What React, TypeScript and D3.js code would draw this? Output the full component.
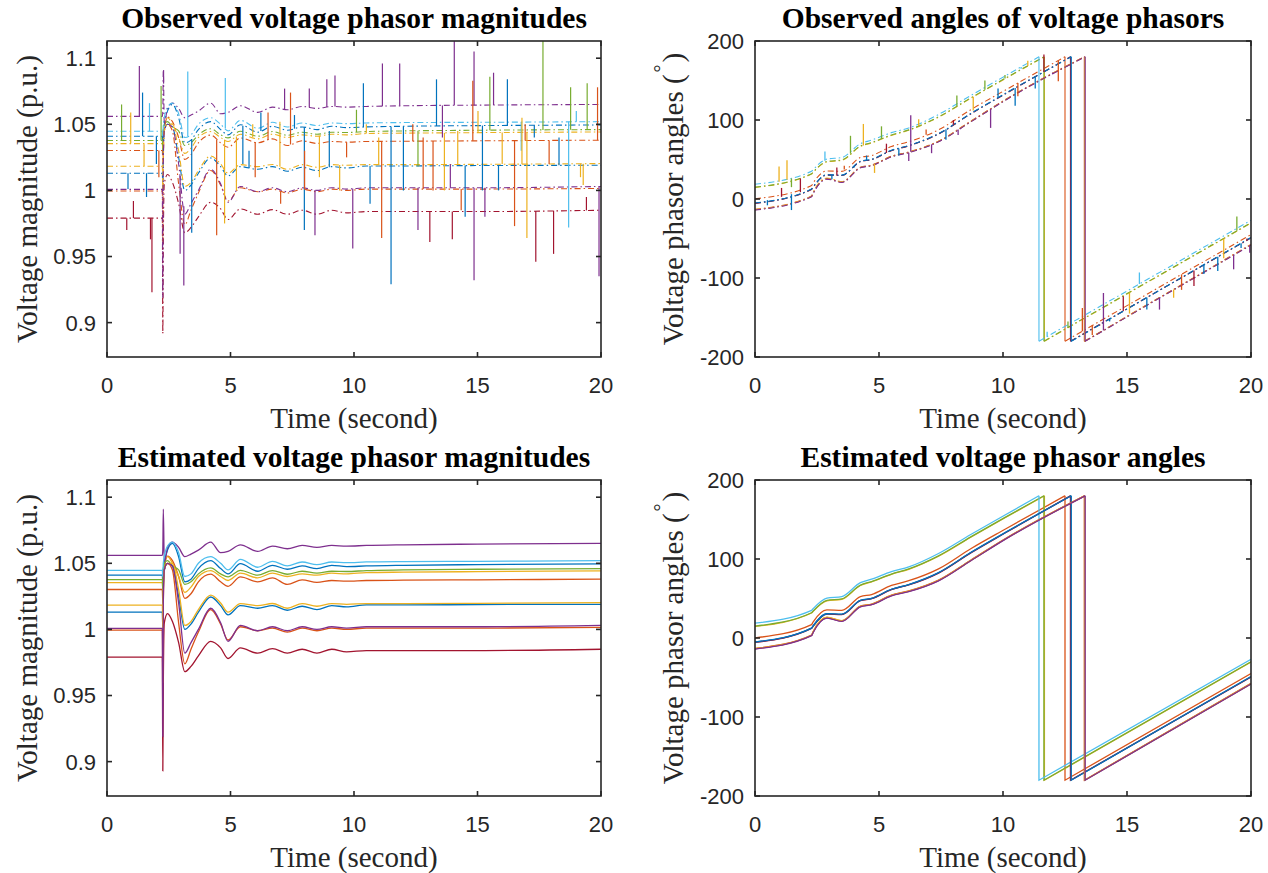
import React from 'react';
import * as d3 from 'd3';

// MATLAB default colour order
const COLORS = ['#0072BD', '#D95319', '#EDB120', '#7E2F8E', '#77AC30', '#4DBEEE', '#A2142F'];

const xTicks = [0, 5, 10, 15, 20];
const magTicks = [0.9, 0.95, 1, 1.05, 1.1];
const angTicks = [-200, -100, 0, 100, 200];

// ---------- magnitude key points (p.u.) ----------
const magTimes = [0, 2.24, 2.26, 2.28, 2.32, 2.45, 2.65, 2.9, 3.15, 3.4, 3.7, 4.2, 4.6, 4.9, 5.4, 6.1, 6.7, 7.3, 7.9, 8.5, 9.1, 9.7, 10.5, 12, 15, 20];
const magBlue1 = [1.041, 1.041, 1.035, 1.045, 1.05, 1.06, 1.065, 1.055, 1.036, 1.038, 1.046, 1.052, 1.046, 1.042, 1.0497, 1.044, 1.0485, 1.0455, 1.048, 1.046, 1.0485, 1.0475, 1.048, 1.0485, 1.049, 1.0495];
const magOrange1 = [1.0302, 1.0302, 1.02, 1.035, 1.045, 1.0555, 1.052, 1.04, 1.0234, 1.027, 1.036, 1.0418, 1.036, 1.0326, 1.0397, 1.036, 1.039, 1.034, 1.0375, 1.0355, 1.037, 1.0365, 1.037, 1.0372, 1.0375, 1.038];
const magYellow1 = [1.0354, 1.0354, 1.03, 1.04, 1.05, 1.055, 1.05, 1.04, 1.028, 1.032, 1.04, 1.0445, 1.04, 1.037, 1.0425, 1.039, 1.0425, 1.04, 1.042, 1.041, 1.0425, 1.042, 1.043, 1.0433, 1.0437, 1.0442];
const magPurple1 = [1.056, 1.056, 1.06, 1.091, 1.05, 1.062, 1.066, 1.062, 1.055, 1.057, 1.06, 1.066, 1.058, 1.059, 1.064, 1.059, 1.063, 1.061, 1.0635, 1.062, 1.0635, 1.063, 1.0635, 1.064, 1.0645, 1.065];
const magGreen = [1.0377, 1.0377, 1.03, 1.045, 1.05, 1.052, 1.048, 1.045, 1.034, 1.036, 1.042, 1.0466, 1.042, 1.0397, 1.0447, 1.041, 1.0445, 1.0417, 1.044, 1.0425, 1.044, 1.0438, 1.0445, 1.045, 1.0455, 1.046];
const magLightBlue = [1.0447, 1.0447, 1.04, 1.05, 1.055, 1.063, 1.066, 1.058, 1.04, 1.042, 1.05, 1.055, 1.05, 1.045, 1.053, 1.047, 1.0515, 1.048, 1.051, 1.049, 1.051, 1.0505, 1.051, 1.0513, 1.0515, 1.052];
const magDarkRed = [0.979, 0.979, 0.893, 0.96, 1.005, 1.012, 1.006, 0.99, 0.968, 0.972, 0.98, 0.991, 0.986, 0.978, 0.986, 0.982, 0.9855, 0.982, 0.985, 0.982, 0.985, 0.983, 0.984, 0.984, 0.984, 0.985];
const magBlue2 = [1.013, 1.013, 1.0, 1.03, 1.045, 1.05, 1.048, 1.025, 1.0, 1.004, 1.013, 1.0245, 1.018, 1.011, 1.018, 1.016, 1.018, 1.0145, 1.0175, 1.015, 1.018, 1.017, 1.0185, 1.0185, 1.0188, 1.019];
const magOrange2 = [0.9995, 0.9995, 0.96, 1.02, 1.045, 1.05, 1.045, 1.005, 0.974, 0.985, 0.998, 1.015, 1.004, 0.992, 1.002, 0.999, 1.001, 0.998, 1.001, 0.999, 1.001, 1.0, 1.001, 1.001, 1.001, 1.0015];
const magYellow2 = [1.0183, 1.0183, 1.0, 1.03, 1.045, 1.05, 1.05, 1.03, 1.003, 1.006, 1.015, 1.026, 1.02, 1.013, 1.0195, 1.018, 1.0196, 1.016, 1.0195, 1.0175, 1.0195, 1.019, 1.0195, 1.0195, 1.0197, 1.0203];
const magPurple2 = [1.0008, 1.0008, 0.919, 1.02, 1.045, 1.05, 1.048, 1.02, 0.982, 0.99, 1.0, 1.016, 1.005, 0.991, 1.003, 0.999, 1.002, 0.999, 1.002, 1.0, 1.002, 1.001, 1.002, 1.002, 1.002, 1.003];
const magSeries = [magBlue1, magOrange1, magYellow1, magPurple1, magGreen, magLightBlue, magDarkRed, magBlue2, magOrange2, magYellow2, magPurple2];

// observed bad-data spikes: [series, time, value]
const magSpikes: [number, number, number][] = [
  [3, 1.31, 1.094], [6, 1.76, 0.963], [6, 1.82, 0.923], [4, 2.19, 1.079], [2, 0.96, 1.059], [4, 0.59, 1.065],
  [5, 1.72, 1.066], [0, 1.44, 1.074], [7, 0.85, 1.001], [6, 0.8, 0.97], [6, 1.07, 0.992], [5, 3.27, 1.09],
  [10, 3.11, 0.928], [10, 2.96, 0.952], [0, 3.43, 0.968], [1, 4.44, 0.966], [5, 4.79, 1.085], [2, 4.76, 0.975],
  [0, 6.23, 1.059], [1, 6.52, 1.059], [3, 7.19, 1.077], [1, 7.43, 1.074], [0, 7.99, 0.97], [3, 8.19, 1.077],
  [10, 8.42, 0.966], [3, 8.9, 1.084], [3, 9.23, 1.087], [10, 9.95, 0.956], [4, 10.1, 1.061], [0, 10.38, 1.081],
  [3, 11.15, 1.096], [1, 11.12, 0.964], [3, 11.85, 1.096], [0, 11.5, 0.929], [10, 12.59, 0.97], [6, 13.07, 0.961],
  [0, 13.34, 1.084], [3, 14.06, 1.12], [3, 14.86, 1.105], [10, 14.86, 0.932], [6, 13.98, 0.963], [1, 14.81, 1.083],
  [4, 15.5, 1.086], [3, 15.65, 1.089], [0, 16.21, 1.084], [2, 17.0, 0.964], [1, 16.5, 0.973], [4, 17.65, 1.12],
  [6, 17.36, 0.946], [6, 18.08, 0.952], [5, 18.69, 0.972], [4, 18.77, 1.078], [4, 19.44, 1.081], [9, 19.28, 1.004],
  [1, 19.86, 1.078], [10, 19.92, 0.935], [6, 2.26, 0.892], [3, 2.29, 1.091],
  [2, 5.24, 1.0], [7, 5.75, 1.03], [9, 7.0, 1.052], [0, 7.59, 1.057], [8, 7.03, 0.99], [9, 9.42, 1.0],
  [7, 10.65, 0.99], [4, 12.59, 1.018], [1, 12.38, 1.05], [2, 13.66, 1.0], [7, 14.5, 0.98], [3, 13.58, 1.04],
  [8, 14.34, 0.985], [2, 15.02, 1.06], [7, 15.85, 1.0], [5, 16.77, 1.03], [9, 16.8, 1.055], [1, 16.93, 1.05],
  [6, 19.41, 0.995], [9, 19.17, 1.01], [0, 5.5, 1.02], [2, 5.9, 1.05], [1, 6.0, 1.01], [8, 8.0, 1.03],
  [2, 8.6, 1.01], [7, 9.0, 1.045], [1, 9.7, 1.025], [2, 10.5, 1.05], [9, 11.0, 1.04], [0, 12.0, 1.0],
  [8, 12.8, 1.04], [1, 13.2, 1.0], [9, 14.2, 1.045], [0, 15.2, 1.0], [10, 15.3, 0.98], [2, 16.0, 1.02],
  [0, 17.3, 1.04], [1, 17.9, 1.02], [7, 18.3, 1.04], [5, 19.0, 1.06], [10, 13.9, 1.02], [0, 2.0, 1.02],
  [1, 2.1, 1.01], [9, 1.5, 1.035], [7, 1.6, 0.995],
];

// ---------- angle key points (degrees) ----------
const angTimes = [0, 2.28, 2.34, 2.9, 3.5, 4.25, 4.7, 5.5, 6.2, 7.4, 8.7, 10.1];
const angBlue1 = [-5.3, 12.4, 15, 30.5, 30, 47.5, 50, 61.5, 67.5, 82.5, 108, 133.5];
const angOrange1 = [0.2, 17, 20, 35.5, 35, 52.5, 55, 66.5, 72.5, 87.5, 113, 138];
const angYellow1 = [14.6, 31.6, 33.6, 47, 49, 66.5, 71, 80.5, 87, 103.5, 127.5, 152.5];
const angPurple1 = [-13.7, 3.2, 7, 25.5, 21.3, 39.8, 42.4, 53.7, 59, 72.7, 98, 125.4];
const angGreen = [15, 32, 34, 47.5, 49.5, 67, 71.5, 81, 87.5, 104, 128, 153];
const angLightBlue = [18.7, 35, 37, 50.5, 52.5, 70, 74.5, 84, 90, 107, 131, 156];
const angDarkRed = [-5.6, 12.1, 14.7, 30.2, 29.7, 47.2, 49.7, 61.2, 67.2, 82.2, 107.7, 133.2];
const angBlue2 = [-5.1, 12.6, 15.2, 30.7, 30.2, 47.7, 50.2, 61.7, 67.7, 82.7, 108.2, 133.7];
const angOrange2 = [-13.2, 3.7, 7.5, 26, 21.8, 40.3, 42.9, 54.2, 59.5, 73.2, 98.5, 125.9];
const angYellow2 = [-13.4, 3.5, 8, 26.5, 22, 40, 42.6, 54, 59.2, 73, 98.2, 125.6];
const angPurple2 = [-14, 2.9, 6.7, 25.2, 21, 39.5, 42.1, 53.4, 58.7, 72.4, 97.7, 125.1];
const angSeries = [angBlue1, angOrange1, angYellow1, angPurple1, angGreen, angLightBlue, angDarkRed, angBlue2, angOrange2, angYellow2, angPurple2];
const angWrapTimes = [12.74, 12.5, 11.67, 13.3, 11.65, 11.45, 12.72, 12.75, 13.28, 13.29, 13.31];
const angEndValues = [-49, -45, -30.5, -58, -30, -27, -49.3, -48.8, -57.5, -57.8, -58.3];

const angSpikes: [number, number, number][] = [
  [2, 0.97, 41], [2, 1.29, 49], [4, 1.47, 15], [6, 1.07, 14], [0, 1.47, -14], [6, 1.83, 26], [5, 2.82, 60],
  [4, 3.85, 80], [2, 4.37, 95], [4, 5.1, 92], [9, 4.82, 33], [3, 6.28, 106], [10, 6.2, 48], [2, 6.6, 101],
  [10, 7.12, 58], [4, 8.14, 131], [3, 8.19, 81], [4, 9.27, 150], [0, 10.49, 118], [4, 10.08, 157],
  [6, 11.65, 183], [1, 12.23, 149], [5, 10.73, 165],
  [4, 12.62, -155], [5, 11.78, -168], [1, 13.2, -138], [3, 14.05, -119], [6, 14.85, -123], [5, 15.5, -93],
  [10, 16.31, -140], [9, 16.88, -125], [4, 18.38, -58], [0, 18.66, -91], [3, 19.3, -89], [4, 19.43, -22],
  [6, 19.84, -50], [10, 19.95, -68],
  [0, 0.5, -8], [0, 3.1, 25], [6, 3.3, 40], [1, 3.6, 42], [0, 4.0, 40], [7, 4.5, 55], [6, 5.3, 70],
  [0, 5.8, 55], [1, 6.9, 88], [0, 7.7, 75], [6, 8.0, 100], [2, 8.8, 112], [3, 9.5, 90], [0, 9.8, 140],
  [1, 10.6, 130], [7, 11.3, 140], [3, 12.0, 160], [2, 11.0, 175],
  [1, 13.6, -172], [6, 13.9, -160], [0, 14.3, -155], [2, 15.1, -145], [7, 15.8, -140], [3, 16.6, -120],
  [1, 17.2, -115], [6, 17.7, -110], [0, 18.1, -95], [2, 18.9, -75], [7, 19.6, -62],
];

const SERIF = "'Liberation Serif', 'Times New Roman', serif";
const SANS = "'Liberation Sans', Arial, sans-serif";
const AX = '#262626';
const DASHDOT = '6,3,1.5,3';

function interp(ts: number[], vs: number[], t: number) {
  const i = d3.bisectRight(ts, t);
  if (i <= 0) return vs[0];
  if (i >= ts.length) return vs[vs.length - 1];
  const a = ts[i - 1], b = ts[i];
  return vs[i - 1] + (vs[i] - vs[i - 1]) * (t - a) / (b - a);
}

function angleAt(k: number, t: number) {
  const w = angWrapTimes[k];
  if (t >= w) return -180 + (angEndValues[k] + 180) * (t - w) / (20 - w);
  const last = angTimes[angTimes.length - 1];
  const vs = angSeries[k];
  if (t > last) return vs[vs.length - 1] + (180 - vs[vs.length - 1]) * (t - last) / (w - last);
  return interp(angTimes, vs, t);
}

type Box = { L: number; T: number; R: number; B: number };

function Frame({ box, y, yTicks, fmt, title, ylabel, id, children }: any) {
  const x = d3.scaleLinear().domain([0, 20]).range([box.L, box.R]);
  const tl = 5;
  return (
    <g>
      <defs>
        <clipPath id={id}>
          <rect x={box.L} y={box.T} width={box.R - box.L} height={box.B - box.T} />
        </clipPath>
      </defs>
      <g clipPath={`url(#${id})`}>{children(x, y)}</g>
      <rect x={box.L} y={box.T} width={box.R - box.L} height={box.B - box.T} fill="none" stroke={AX} strokeWidth={1.6} />
      {xTicks.map((t) => (
        <g key={'x' + t}>
          <line x1={x(t)} x2={x(t)} y1={box.B} y2={box.B - tl} stroke={AX} strokeWidth={1.6} />
          <line x1={x(t)} x2={x(t)} y1={box.T} y2={box.T + tl} stroke={AX} strokeWidth={1.6} />
          <text x={x(t)} y={box.B + 36} textAnchor="middle" fontFamily={SANS} fontSize={22} fill={AX}>{t}</text>
        </g>
      ))}
      {yTicks.map((v: number) => (
        <g key={'y' + v}>
          <line x1={box.L} x2={box.L + tl} y1={y(v)} y2={y(v)} stroke={AX} strokeWidth={1.6} />
          <line x1={box.R} x2={box.R - tl} y1={y(v)} y2={y(v)} stroke={AX} strokeWidth={1.6} />
          <text x={box.L - 11} y={y(v)} dy="0.36em" textAnchor="end" fontFamily={SANS} fontSize={22} fill={AX}>{fmt(v)}</text>
        </g>
      ))}
      <text x={(box.L + box.R) / 2} y={box.T - 13} textAnchor="middle" fontFamily={SERIF} fontWeight="bold" fontSize={29.5} fill="#000">{title}</text>
      <text x={(box.L + box.R) / 2} y={box.B + 71} textAnchor="middle" fontFamily={SERIF} fontSize={29} fill={AX}>Time (second)</text>
      {ylabel(box)}
    </g>
  );
}

const magFmt = (v: number) => String(+v.toFixed(2));
const angFmt = (v: number) => String(v);

const magLabel = (box: Box) => (
  <text transform={`translate(${box.L - 70},${(box.T + box.B) / 2}) rotate(-90)`} textAnchor="middle" fontFamily={SERIF} fontSize={29} fill={AX}>
    Voltage magnitude (p.u.)
  </text>
);
const angLabel = (box: Box) => (
  <text transform={`translate(${box.L - 72},${(box.T + box.B) / 2}) rotate(-90)`} textAnchor="middle" fontFamily={SERIF} fontSize={29} fill={AX}>
    Voltage phasor angles (<tspan dx={2} dy={-15} fontSize={20}>°</tspan><tspan dx={2} dy={15}>)</tspan>
  </text>
);

export default function App() {
  const TL: Box = { L: 107, T: 41, R: 601, B: 357 };
  const TR: Box = { L: 755, T: 41, R: 1251, B: 357 };
  const BL: Box = { L: 107, T: 480, R: 601, B: 796 };
  const BR: Box = { L: 755, T: 480, R: 1251, B: 796 };
  const magY = (b: Box) => d3.scaleLinear().domain([0.874, 1.113]).range([b.B, b.T]);
  const angY = (b: Box) => d3.scaleLinear().domain([-200, 200]).range([b.B, b.T]);

  const magPath = (x: any, y: any, vs: number[]) =>
    d3.line<number>().x((_, j) => x(magTimes[j])).y((v) => y(v)).curve(d3.curveMonotoneX)(vs) || '';

  const angPre = (x: any, y: any, k: number) => {
    const pts: [number, number][] = angTimes.map((t, j) => [t, angSeries[k][j]] as [number, number]);
    pts.push([angWrapTimes[k], 180]);
    return d3.line().x((d) => x(d[0])).y((d) => y(d[1])).curve(d3.curveMonotoneX)(pts) || '';
  };
  const angWrap = (x: any, y: any, k: number) =>
    d3.line()([[x(angWrapTimes[k]), y(180)], [x(angWrapTimes[k]), y(-180)]]) || '';
  const angPost = (x: any, y: any, k: number) =>
    d3.line()([[x(angWrapTimes[k]), y(-180)], [x(20), y(angEndValues[k])]]) || '';

  return (
    <svg width={1268} height={873} style={{ position: 'absolute', left: 0, top: 0, background: '#fff' }}>
      <rect width={1268} height={873} fill="#fff" />
      {/* Observed magnitudes */}
      <Frame box={TL} y={magY(TL)} yTicks={magTicks} fmt={magFmt} title="Observed voltage phasor magnitudes" ylabel={magLabel} id="c1">
        {(x: any, y: any) => (
          <g>
            {magSeries.map((vs, k) => (
              <path key={k} d={magPath(x, y, vs)} fill="none" stroke={COLORS[k % 7]} strokeWidth={1.1} strokeDasharray={DASHDOT} />
            ))}
            {magSpikes.map(([k, t, v], i) => (
              <line key={'s' + i} x1={x(t)} x2={x(t)} y1={y(interp(magTimes, magSeries[k], t))} y2={y(v)} stroke={COLORS[k % 7]} strokeWidth={1.2} />
            ))}
          </g>
        )}
      </Frame>
      {/* Observed angles */}
      <Frame box={TR} y={angY(TR)} yTicks={angTicks} fmt={angFmt} title="Observed angles of voltage phasors" ylabel={angLabel} id="c2">
        {(x: any, y: any) => (
          <g>
            {angSeries.map((_, k) => (
              <g key={k}>
                <path d={angPre(x, y, k)} fill="none" stroke={COLORS[k % 7]} strokeWidth={1.1} strokeDasharray={DASHDOT} />
                <path d={angWrap(x, y, k)} fill="none" stroke={COLORS[k % 7]} strokeWidth={1.1} />
                <path d={angPost(x, y, k)} fill="none" stroke={COLORS[k % 7]} strokeWidth={1.1} strokeDasharray={DASHDOT} />
              </g>
            ))}
            {angSpikes.map(([k, t, v], i) => (
              <line key={'s' + i} x1={x(t)} x2={x(t)} y1={y(angleAt(k, t))} y2={y(v)} stroke={COLORS[k % 7]} strokeWidth={1.3} />
            ))}
          </g>
        )}
      </Frame>
      {/* Estimated magnitudes */}
      <Frame box={BL} y={magY(BL)} yTicks={magTicks} fmt={magFmt} title="Estimated voltage phasor magnitudes" ylabel={magLabel} id="c3">
        {(x: any, y: any) => (
          <g>
            {magSeries.map((vs, k) => (
              <path key={k} d={magPath(x, y, vs)} fill="none" stroke={COLORS[k % 7]} strokeWidth={1.3} />
            ))}
          </g>
        )}
      </Frame>
      {/* Estimated angles */}
      <Frame box={BR} y={angY(BR)} yTicks={angTicks} fmt={angFmt} title="Estimated voltage phasor angles" ylabel={angLabel} id="c4">
        {(x: any, y: any) => (
          <g>
            {angSeries.map((_, k) => (
              <g key={k}>
                <path d={angPre(x, y, k)} fill="none" stroke={COLORS[k % 7]} strokeWidth={1.3} />
                <path d={angWrap(x, y, k) + (angPost(x, y, k) || '').replace('M', 'L')} fill="none" stroke={COLORS[k % 7]} strokeWidth={1.3} />
              </g>
            ))}
          </g>
        )}
      </Frame>
    </svg>
  );
}
